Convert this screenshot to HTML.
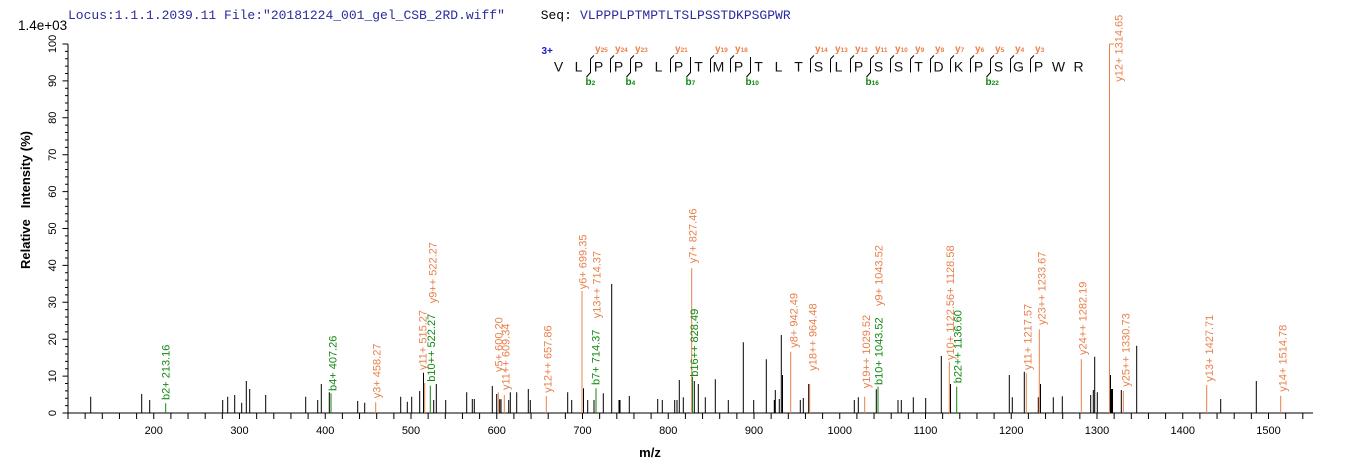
<!DOCTYPE html>
<html><head><meta charset="utf-8"><style>
html,body{margin:0;padding:0;background:#fff;}
svg{display:block;}
.t{font-family:"Liberation Sans",Arial,sans-serif;}
.m{font-family:"Liberation Mono","Courier New",monospace;}
.o{fill:#e8804c;}
.g{fill:#118811;}
</style></head><body>
<svg width="1362" height="473" viewBox="0 0 1362 473" xmlns="http://www.w3.org/2000/svg">
<rect width="1362" height="473" fill="#fff"/>
<!-- header -->
<text class="m" x="68" y="19" font-size="13" fill="#2a2aa0">Locus:1.1.1.2039.11 File:"20181224_001_gel_CSB_2RD.wiff"</text>
<text class="m" x="540.7" y="19" font-size="13" fill="#000">Seq:</text>
<text class="m" x="580" y="19" font-size="13" fill="#2a2aa0">VLPPPLPTMPTLTSLPSSTDKPSGPWR</text>
<text class="t" x="18" y="30" font-size="13.5" fill="#000">1.4e+03</text>

<!-- sequence panel -->
<text class="t" x="541.5" y="54" font-size="10" font-weight="bold" fill="#1a1acc">3+</text>
<g class="t" font-size="14" fill="#111" text-anchor="middle">
<text x="558.5" y="71.3">V</text><text x="578.5" y="71.3">L</text><text x="598.5" y="71.3">P</text><text x="618.5" y="71.3">P</text><text x="638.5" y="71.3">P</text><text x="658.5" y="71.3">L</text><text x="678.5" y="71.3">P</text><text x="698.5" y="71.3">T</text><text x="718.5" y="71.3">M</text><text x="738.5" y="71.3">P</text><text x="758.5" y="71.3">T</text><text x="778.5" y="71.3">L</text><text x="798.5" y="71.3">T</text><text x="818.5" y="71.3">S</text><text x="838.5" y="71.3">L</text><text x="858.5" y="71.3">P</text><text x="878.5" y="71.3">S</text><text x="898.5" y="71.3">S</text><text x="918.5" y="71.3">T</text><text x="938.5" y="71.3">D</text><text x="958.5" y="71.3">K</text><text x="978.5" y="71.3">P</text><text x="998.5" y="71.3">S</text><text x="1018.5" y="71.3">G</text><text x="1038.5" y="71.3">P</text><text x="1058.5" y="71.3">W</text><text x="1078.5" y="71.3">R</text>
</g>
<g stroke="#000" stroke-width="1" fill="none">
<path d="M594 55.5 L590.5 59 L590.5 72.5 L586.5 77"/>
<path d="M614 55.5 L610.5 59 L610.5 72.5"/>
<path d="M634 55.5 L630.5 59 L630.5 72.5 L626.5 77"/>
<path d="M674 55.5 L670.5 59 L670.5 72.5"/>
<path d="M690.5 57 L690.5 72.5 L686.5 77"/>
<path d="M714 55.5 L710.5 59 L710.5 72.5"/>
<path d="M734 55.5 L730.5 59 L730.5 72.5"/>
<path d="M750.5 57 L750.5 72.5 L746.5 77"/>
<path d="M814 55.5 L810.5 59 L810.5 72.5"/>
<path d="M834 55.5 L830.5 59 L830.5 72.5"/>
<path d="M854 55.5 L850.5 59 L850.5 72.5"/>
<path d="M874 55.5 L870.5 59 L870.5 72.5 L866.5 77"/>
<path d="M894 55.5 L890.5 59 L890.5 72.5"/>
<path d="M914 55.5 L910.5 59 L910.5 72.5"/>
<path d="M934 55.5 L930.5 59 L930.5 72.5"/>
<path d="M954 55.5 L950.5 59 L950.5 72.5"/>
<path d="M974 55.5 L970.5 59 L970.5 72.5"/>
<path d="M994 55.5 L990.5 59 L990.5 72.5 L986.5 77"/>
<path d="M1014 55.5 L1010.5 59 L1010.5 72.5"/>
<path d="M1034 55.5 L1030.5 59 L1030.5 72.5"/>
</g>
<g class="t o" font-size="10" font-weight="bold">
<text x="595" y="52">y<tspan font-size="6.5">25</tspan></text>
<text x="615" y="52">y<tspan font-size="6.5">24</tspan></text>
<text x="635" y="52">y<tspan font-size="6.5">23</tspan></text>
<text x="675" y="52">y<tspan font-size="6.5">21</tspan></text>
<text x="715" y="52">y<tspan font-size="6.5">19</tspan></text>
<text x="735" y="52">y<tspan font-size="6.5">18</tspan></text>
<text x="815" y="52">y<tspan font-size="6.5">14</tspan></text>
<text x="835" y="52">y<tspan font-size="6.5">13</tspan></text>
<text x="855" y="52">y<tspan font-size="6.5">12</tspan></text>
<text x="875" y="52">y<tspan font-size="6.5">11</tspan></text>
<text x="895" y="52">y<tspan font-size="6.5">10</tspan></text>
<text x="915" y="52">y<tspan font-size="6.5">9</tspan></text>
<text x="935" y="52">y<tspan font-size="6.5">8</tspan></text>
<text x="955" y="52">y<tspan font-size="6.5">7</tspan></text>
<text x="975" y="52">y<tspan font-size="6.5">6</tspan></text>
<text x="995" y="52">y<tspan font-size="6.5">5</tspan></text>
<text x="1015" y="52">y<tspan font-size="6.5">4</tspan></text>
<text x="1035" y="52">y<tspan font-size="6.5">3</tspan></text>
</g>
<g class="t g" font-size="10" font-weight="bold">
<text x="585.5" y="85">b<tspan font-size="6.5">2</tspan></text>
<text x="625.5" y="85">b<tspan font-size="6.5">4</tspan></text>
<text x="685.5" y="85">b<tspan font-size="6.5">7</tspan></text>
<text x="745.5" y="85">b<tspan font-size="6.5">10</tspan></text>
<text x="865.5" y="85">b<tspan font-size="6.5">16</tspan></text>
<text x="985.5" y="85">b<tspan font-size="6.5">22</tspan></text>
</g>

<!-- axes -->
<g stroke="#000" stroke-width="1" fill="none">
<line x1="68" y1="44" x2="68" y2="413.5"/>
<line x1="67.5" y1="413" x2="1313" y2="413"/>
<path d="M62.5 413H68M62.5 376.1H68M62.5 339.2H68M62.5 302.3H68M62.5 265.4H68M62.5 228.5H68M62.5 191.6H68M62.5 154.7H68M62.5 117.8H68M62.5 80.9H68M62.5 44H68"/>
<path d="M65 405.62H68M65 398.24H68M65 390.86H68M65 383.48H68M65 368.72H68M65 361.34H68M65 353.96H68M65 346.58H68M65 331.82H68M65 324.44H68M65 317.06H68M65 309.68H68M65 294.92H68M65 287.54H68M65 280.16H68M65 272.78H68M65 258.02H68M65 250.64H68M65 243.26H68M65 235.88H68M65 221.12H68M65 213.74H68M65 206.36H68M65 198.98H68M65 184.22H68M65 176.84H68M65 169.46H68M65 162.08H68M65 147.32H68M65 139.94H68M65 132.56H68M65 125.18H68M65 110.42H68M65 103.04H68M65 95.66H68M65 88.28H68M65 73.52H68M65 66.14H68M65 58.76H68M65 51.38H68"/>
<path d="M68 413V419M85.15 413V419M102.3 413V419M119.45 413V419M136.6 413V419M153.75 413V419M170.9 413V419M188.05 413V419M205.2 413V419M222.35 413V419M239.5 413V419M256.65 413V419M273.8 413V419M290.95 413V419M308.1 413V419M325.25 413V419M342.4 413V419M359.55 413V419M376.7 413V419M393.85 413V419M411 413V419M428.15 413V419M445.3 413V419M462.45 413V419M479.6 413V419M496.75 413V419M513.9 413V419M531.05 413V419M548.2 413V419M565.35 413V419M582.5 413V419M599.65 413V419M616.8 413V419M633.95 413V419M651.1 413V419M668.25 413V419M685.4 413V419M702.55 413V419M719.7 413V419M736.85 413V419M754 413V419M771.15 413V419M788.3 413V419M805.45 413V419M822.6 413V419M839.75 413V419M856.9 413V419M874.05 413V419M891.2 413V419M908.35 413V419M925.5 413V419M942.65 413V419M959.8 413V419M976.95 413V419M994.1 413V419M1011.25 413V419M1028.4 413V419M1045.55 413V419M1062.7 413V419M1079.85 413V419M1097 413V419M1114.15 413V419M1131.3 413V419M1148.45 413V419M1165.6 413V419M1182.75 413V419M1199.9 413V419M1217.05 413V419M1234.2 413V419M1251.35 413V419M1268.5 413V419M1285.65 413V419M1302.8 413V419"/>
</g>
<g class="t" font-size="11" fill="#000" text-anchor="middle">
<text transform="translate(56,413) rotate(-90)">0</text>
<text transform="translate(56,376.1) rotate(-90)">10</text>
<text transform="translate(56,339.2) rotate(-90)">20</text>
<text transform="translate(56,302.3) rotate(-90)">30</text>
<text transform="translate(56,265.4) rotate(-90)">40</text>
<text transform="translate(56,228.5) rotate(-90)">50</text>
<text transform="translate(56,191.6) rotate(-90)">60</text>
<text transform="translate(56,154.7) rotate(-90)">70</text>
<text transform="translate(56,117.8) rotate(-90)">80</text>
<text transform="translate(56,80.9) rotate(-90)">90</text>
<text transform="translate(56,44) rotate(-90)">100</text>
<text x="153.75" y="434">200</text>
<text x="239.5" y="434">300</text>
<text x="325.25" y="434">400</text>
<text x="411" y="434">500</text>
<text x="496.75" y="434">600</text>
<text x="582.5" y="434">700</text>
<text x="668.25" y="434">800</text>
<text x="754" y="434">900</text>
<text x="839.75" y="434">1000</text>
<text x="925.5" y="434">1100</text>
<text x="1011.25" y="434">1200</text>
<text x="1097" y="434">1300</text>
<text x="1182.75" y="434">1400</text>
<text x="1268.5" y="434">1500</text>
</g>
<text class="t" x="650" y="457" font-size="13" font-weight="bold" text-anchor="middle">m/z</text>
<text class="t" transform="translate(30,200) rotate(-90)" font-size="13" font-weight="bold" text-anchor="middle" xml:space="preserve">Relative   Intensity (%)</text>

<!-- black peaks -->
<path stroke="#000" stroke-width="1" fill="none" d="M90.7 413V396.7M141.7 413V394M149.7 413V400M222.7 413V400M227.7 413V396.7M234.7 413V395M241.7 413V402.7M246.3 413V381M249.7 413V389M265.7 413V395M305.7 413V396.7M317.7 413V400M321.3 413V384M329.3 413V392.3M357.7 413V401M364.7 413V402.7M400.7 413V396.7M407.3 413V401.7M411.7 413V396.7M419.7 413V391M423.5 413V372.7M433.7 413V400M436.3 413V384M445.7 413V400M466.7 413V392.3M472.3 413V399M474.3 413V399M492.3 413V386M496.7 413V394M499.7 413V399.3M501 413V399.3M508.7 413V400M510.3 413V392.3M516.7 413V392.3M528.3 413V389M530.3 413V400M567.7 413V392.3M571.7 413V400M583.5 413V388.3M587.7 413V400M594 413V400M603.3 413V393.3M611.7 413V284M619 413V400M620 413V400M629.3 413V396M657.7 413V399M662.3 413V400M674.7 413V400M677 413V400M679.3 413V380M683.3 413V397.3M694.3 413V381M698.3 413V384M705.3 413V397.3M715.3 413V379.3M728.3 413V400M743.3 413V342.3M753.7 413V400M766.3 413V359.3M774.3 413V400M775.3 413V390M779.3 413V399M781.3 413V335M782.5 413V375M800.3 413V400M803.3 413V398M808.7 413V384M854.3 413V400M858.3 413V397.3M876.3 413V389.3M898 413V400M901.3 413V400M913.3 413V397.3M925.7 413V398M941.3 413V356M950.5 413V384M1009.3 413V375M1012.3 413V397.3M1024.3 413V371.7M1038.3 413V397.3M1040.5 413V384M1053.3 413V397.3M1062.3 413V396.3M1090.7 413V395M1093.3 413V390M1094.7 413V356.7M1097.3 413V392.3M1110.5 413V375M1111.5 413V389M1112.5 413V389M1121.3 413V390M1136.7 413V345.7M1220.7 413V399M1256.3 413V381"/>
<!-- orange peaks -->
<path stroke="#e8804c" stroke-width="1" fill="none" d="M375.7 413V402.3M424.7 413V383M498.3 413V392.3M504.3 413V395M546.3 413V396M582 413V290.7M691.7 413V268.3M790.7 413V351.7M809.7 413V384M864.7 413V396.7M949.3 413V361.7M1026.3 413V373.3M1039.3 413V329.3M1081.3 413V359.3M1109.5 413V44M1123.3 413V391M1206.7 413V385M1280.7 413V395.7M1109.5 44H1114"/>
<!-- green peaks -->
<path stroke="#118811" stroke-width="1" fill="none" d="M165.7 413V403.3M331 413V393.3M430.3 413V385.7M596 413V388.3M692.5 413V376.7M878 413V386.7M956.7 413V386.7"/>

<!-- peak labels -->
<g class="t" font-size="11">
<text class="g" transform="translate(169.7,400) rotate(-90)">b2+ 213.16</text>
<text class="g" transform="translate(336.3,391) rotate(-90)">b4+ 407.26</text>
<text class="o" transform="translate(380.7,398.3) rotate(-90)">y3+ 458.27</text>
<text class="o" transform="translate(426.3,370) rotate(-90)">y11+ 515.27</text>
<text class="g" transform="translate(435,381.7) rotate(-90)">b10++ 522.27</text>
<text class="o" transform="translate(436.7,303.3) rotate(-90)">y9++ 522.27</text>
<text class="o" transform="translate(502.3,372) rotate(-90)">y5+ 600.20</text>
<text class="o" transform="translate(509.7,390) rotate(-90)">y11++ 609.34</text>
<text class="o" transform="translate(551.3,392.7) rotate(-90)">y12++ 657.86</text>
<text class="o" transform="translate(586.3,289.3) rotate(-90)">y6+ 699.35</text>
<text class="g" transform="translate(599.3,385) rotate(-90)">b7+ 714.37</text>
<text class="o" transform="translate(600.7,318.3) rotate(-90)">y13++ 714.37</text>
<text class="o" transform="translate(696.3,263.3) rotate(-90)">y7+ 827.46</text>
<text class="g" transform="translate(698,376.7) rotate(-90)">b16++ 828.49</text>
<text class="o" transform="translate(797.3,347.7) rotate(-90)">y8+ 942.49</text>
<text class="o" transform="translate(816.3,370.7) rotate(-90)">y18++ 964.48</text>
<text class="o" transform="translate(870,388.3) rotate(-90)">y19++ 1029.52</text>
<text class="g" transform="translate(882.3,385) rotate(-90)">b10+ 1043.52</text>
<text class="o" transform="translate(882.3,306) rotate(-90)">y9+ 1043.52</text>
<text class="o" transform="translate(954,360) rotate(-90)">y10+ 1122.56+ 1128.58</text>
<text class="g" transform="translate(961.7,383.3) rotate(-90)">b22++ 1136.60</text>
<text class="o" transform="translate(1031.7,370) rotate(-90)">y11+ 1217.57</text>
<text class="o" transform="translate(1045.7,325) rotate(-90)">y23++ 1233.67</text>
<text class="o" transform="translate(1086.7,355) rotate(-90)">y24++ 1282.19</text>
<text class="o" transform="translate(1122.3,81.7) rotate(-90)">y12+ 1314.65</text>
<text class="o" transform="translate(1129.7,386.7) rotate(-90)">y25++ 1330.73</text>
<text class="o" transform="translate(1213,381.7) rotate(-90)">y13+ 1427.71</text>
<text class="o" transform="translate(1286.7,391.7) rotate(-90)">y14+ 1514.78</text>
</g>
</svg>
</body></html>
